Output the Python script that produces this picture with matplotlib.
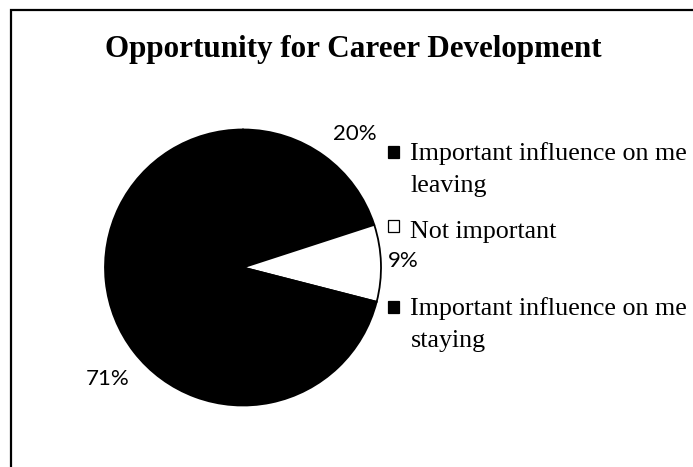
import matplotlib
matplotlib.use("Agg")
import matplotlib.pyplot as plt
import numpy as np
from matplotlib.legend_handler import HandlerBase
from matplotlib.patches import Rectangle

# ---- data ----
title = "Opportunity for Career Development"
categories = ["Important influence on me\nleaving",
              "Not important",
              "Important influence on me\nstaying"]
shares = [20, 9, 71]
pct_labels = ["20%", "9%", "71%"]
colors = ["black", "white", "black"]

# ---- layout ----
W, H = 693, 467
fig = plt.figure(figsize=(W / 100, H / 100), dpi=100)

cx, cy, r = 243, 267.5, 138
ax = fig.add_axes([(cx - r) / W, (H - cy - r) / H, 2 * r / W, 2 * r / H])
wedges, _ = ax.pie(shares, colors=colors, startangle=90, counterclock=False,
                   radius=1, wedgeprops=dict(linewidth=1.3, edgecolor="black"))
ax.set_xlim(-1.0, 1.0)
ax.set_ylim(-1.0, 1.0)
ax.set_aspect("equal")
ax.axis("off")

# percentage labels placed around the pie (distance, angle offset in deg)
label_dist = [1.23, 1.16, 1.297]
label_shift = [-5.3, -1.6, 3.2]
for w, t, d, s in zip(wedges, pct_labels, label_dist, label_shift):
    ang = np.deg2rad((w.theta1 + w.theta2) / 2 + s)
    ax.text(d * np.cos(ang), d * np.sin(ang), t, ha="center", va="baseline",
            fontsize=16, family=["Lato", "DejaVu Sans"], clip_on=False)

# title
fig.text(353 / W, 1 - 57 / H, title, ha="center", va="baseline",
         fontsize=22.4, fontweight="bold", family=["Liberation Serif", "DejaVu Serif"])

LEG_FS = 18.7
LINESP = 1.6


class SquareHandler(HandlerBase):
    def __init__(self, shift):
        super().__init__()
        self.shift = shift

    def create_artists(self, legend, orig_handle, xdescent, ydescent, width,
                       height, fontsize, trans):
        size = 0.46 * fontsize
        x0 = -xdescent + (width - size) / 2
        y0 = -ydescent + (height - size) / 2 + self.shift * fontsize
        rect = Rectangle((x0, y0), size, size,
                         facecolor=orig_handle.get_facecolor(),
                         edgecolor="black", linewidth=0.9, transform=trans)
        return [rect]


def shift_for(label):
    n = label.count("\n")
    return 0.1 + n * 0.5 * 0.683 * LINESP


common = dict(loc="upper left", frameon=False, borderpad=0, borderaxespad=0,
              handlelength=0.5, handleheight=0.7, handletextpad=0.4,
              labelspacing=0.87,
              prop=dict(family=["Liberation Serif", "DejaVu Serif"], size=LEG_FS))

hmap = {w: SquareHandler(shift_for(c)) for w, c in zip(wedges, categories)}

leg1 = fig.legend(wedges[:2], categories[:2],
                  bbox_to_anchor=(387 / W, 1 - 142 / H), handler_map=hmap, **common)
leg2 = fig.legend(wedges[2:], categories[2:],
                  bbox_to_anchor=(387 / W, 1 - 297 / H), handler_map=hmap, **common)
for lg in (leg1, leg2):
    for t in lg.get_texts():
        t.set_linespacing(LINESP)

# outer frame (runs off the right and bottom edges)
fig.add_artist(Rectangle((11 / W, -0.05), 1.2, (1 - 10 / H) + 0.05,
                         transform=fig.transFigure, fill=False,
                         edgecolor="black", linewidth=1.6))

fig.savefig("out.png", dpi=100)
